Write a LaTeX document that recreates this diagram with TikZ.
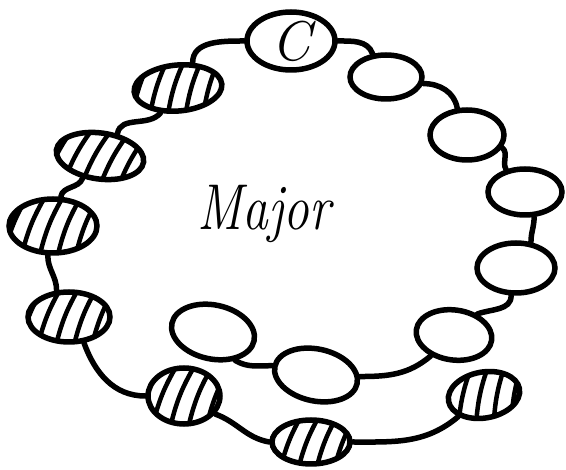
\documentclass[tikz,border=0pt]{standalone}
\usetikzlibrary{shapes.geometric, calc}

\begin{document}
\begin{tikzpicture}[
        x=1pt, y=-1pt,
        bead/.style={ellipse, draw, line width=5.5pt, inner sep=0pt},
        striped/.style={bead, path picture={
            \foreach \k in {-2,...,2}
                \draw[line width=4.5pt, line cap=round]
                    ($(path picture bounding box.center)+(\k*18,0)$)
                    ++(-112:40pt) to[bend left=10] ++(68:80pt);
        }},
        link/.style={line width=5.5pt, line cap=round},
        lbl/.style={font=\itshape\fontsize{54}{64}\selectfont},
    ]
    \useasboundingbox (0,0) rectangle (566,470);

    %% the key of C and its white beads
    \node[bead, minimum width=88pt, minimum height=58pt] (cnode) at (291,41)
        {\itshape\fontsize{56}{60}\selectfont C};
    \node[bead, minimum width=72pt, minimum height=44pt] (w1) at (386,77) {};
    \node[bead, minimum width=74pt, minimum height=50pt] (w2) at (467,135) {};
    \node[bead, minimum width=74pt, minimum height=46pt] (w3) at (525,192) {};
    \node[bead, minimum width=78pt, minimum height=50pt] (w4) at (516,268) {};
    \node[bead, minimum width=76pt, minimum height=50pt, rotate=-8] (w5) at (454,335) {};
    \node[bead, minimum width=84pt, minimum height=52pt, rotate=-12] (w6) at (316,375) {};
    \node[bead, minimum width=84pt, minimum height=54pt, rotate=-12] (w7) at (213,332) {};

    %% striped beads
    \node[striped, minimum width=88pt, minimum height=46pt, rotate=5] (h1) at (178,88) {};
    \node[striped, minimum width=88pt, minimum height=46pt, rotate=-8] (h2) at (100,156) {};
    \node[striped, minimum width=88pt, minimum height=54pt] (h3) at (53,226) {};
    \node[striped, minimum width=82pt, minimum height=50pt] (h4) at (69,317) {};
    \node[striped, minimum width=72pt, minimum height=56pt] (h5) at (184,396) {};
    \node[striped, minimum width=78pt, minimum height=44pt] (h6) at (311,442) {};
    \node[striped, minimum width=72pt, minimum height=46pt, rotate=10] (h7) at (484,395) {};

    \node[lbl] (title) at (264,214) {\scalebox{0.95}[1.2]{Major}};

    %% the string
    \draw[link] (cnode.west) to[out=180,in=90] (h1.55);
    \draw[link] (cnode.east) to[out=0,in=110] (w1.120);
    \draw[link] (w1.-10) to[out=0,in=100] (w2.110);
    \draw[link] (w2.-20) to[out=-40,in=120] (w3.130);
    \draw[link] (w3.-70) to[out=-90,in=90] (w4.60);
    \draw[link] (w4.-100) to[out=-90,in=20] (w5.50);
    \draw[link] (w5.-130) to[out=-140,in=0] (w6.10);
    \draw[link] (w6.west) to[out=180,in=-30] (w7.-40);
    \draw[link] (h1.-130) to[out=-130,in=80] (h2.60);
    \draw[link] (h2.-120) to[out=-110,in=80] (h3.75);
    \draw[link] (h3.-100) to[out=-90,in=90] (h4.115);
    \draw[link] (h4.-60) to[out=-70,in=180] (h5.180);
    \draw[link] (h5.-30) to[out=-20,in=170] (h6.west);
    \draw[link] (h6.east) to[out=0,in=-140] (h7.-150);
\end{tikzpicture}
\end{document}
